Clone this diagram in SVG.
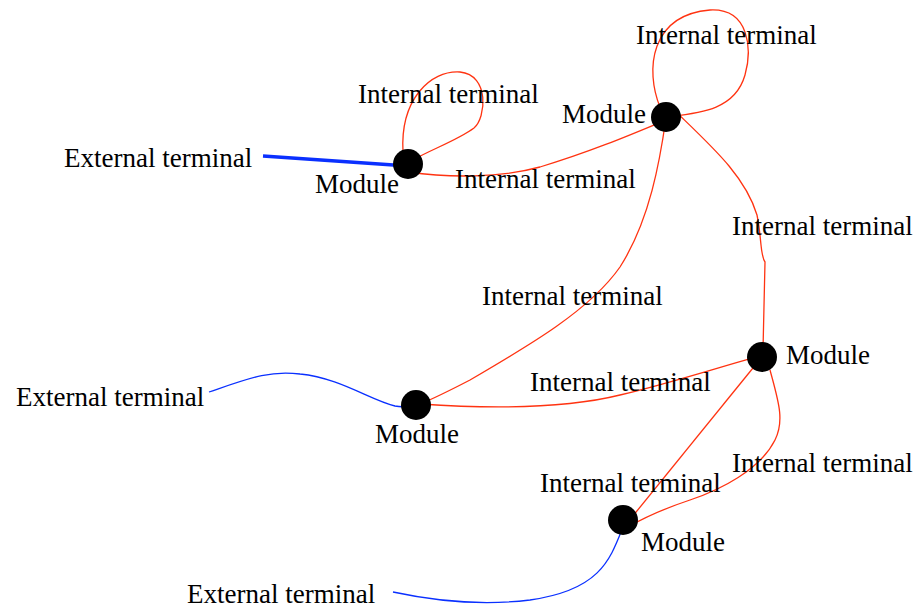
<svg xmlns="http://www.w3.org/2000/svg" width="917" height="608" viewBox="0 0 917 608">
<style>
text{font-family:"Liberation Serif","Times New Roman",serif;font-size:27px;fill:#000}
.r{fill:none;stroke:#ff3311;stroke-width:1.3}
.b{fill:none;stroke:#0a30ff;stroke-width:1.3}
.bt{fill:none;stroke:#0a30ff;stroke-width:3.5}
.n{fill:#000}
</style>
<rect width="917" height="608" fill="#fff"/>
<g id="connectors">
<path class="bt" d="M263 156 L408 166"/>
<path class="r" d="M403 152 C400 100 430 70 460 72 C490 75 486 118 474 128 C458 140 430 150 413 160"/>
<path class="r" d="M408 172 C450 178 500 178 540 167 C590 152 630 135 666 120"/>
<path class="r" d="M660 107 C645 70 650 15 710 10 C750 8 752 50 745 75 C735 110 700 113 667 117"/>
<path class="r" d="M672 108 C710 145 745 175 757 215 C762 240 760 255 765 262 L763 350"/>
<path class="r" d="M666 118 C660 160 650 220 620 267 C590 310 530 345 470 380 C445 393 430 400 418 405"/>
<path class="b" d="M209 392 C250 378 270 370 300 374 C340 378 370 400 395 406 C405 408 412 406 418 403"/>
<path class="r" d="M420 404 C480 408 560 410 620 395 C670 383 710 370 752 358"/>
<path class="r" d="M757 363 L628 522"/>
<path class="r" d="M770 370 C778 400 785 420 775 440 C760 470 720 490 690 500 C660 510 640 520 628 527"/>
<path class="b" d="M623 527 C610 560 600 590 530 600 C480 606 430 600 393 592"/>
</g>
<g id="m1"><circle class="n" cx="408" cy="164" r="15"/><text x="315" y="193">Module</text></g>
<g id="m2"><circle class="n" cx="666" cy="117" r="15"/><text x="562" y="123">Module</text></g>
<g id="m3"><circle class="n" cx="762" cy="357" r="15"/><text x="786" y="364">Module</text></g>
<g id="m4"><circle class="n" cx="416" cy="405" r="15"/><text x="375" y="443">Module</text></g>
<g id="m5"><circle class="n" cx="623" cy="520" r="15"/><text x="641" y="551">Module</text></g>
<g id="labels">
<text x="358" y="103">Internal terminal</text>
<text x="636" y="44">Internal terminal</text>
<text x="64" y="167">External terminal</text>
<text x="455" y="188">Internal terminal</text>
<text x="732" y="235">Internal terminal</text>
<text x="482" y="305">Internal terminal</text>
<text x="16" y="406">External terminal</text>
<text x="530" y="391">Internal terminal</text>
<text x="732" y="472">Internal terminal</text>
<text x="540" y="492">Internal terminal</text>
<text x="187" y="603">External terminal</text>
</g>
</svg>
